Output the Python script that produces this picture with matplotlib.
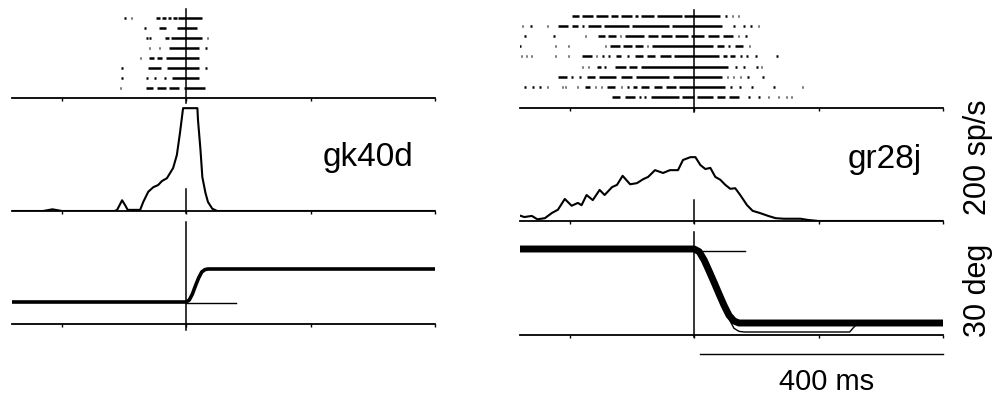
import matplotlib
matplotlib.use('Agg')
import matplotlib.pyplot as plt

W, H, DPI = 1002, 398, 100
plt.rcParams['font.family'] = ['Liberation Sans', 'DejaVu Sans']

# ---------------- data ----------------
tick_ms = [-200, 0, 200, 400]
xlim_ms = (-280, 400)

cell_names = ['gk40d', 'gr28j']
scale_labels = ['200 sp/s', '30 deg', '400 ms']

# rasters: one list of (start_ms, end_ms) bursts per trial, top trial first
raster_gk40d = [
    [(-100, -100), (-89, -89), (-48, -42), (-39, -33), (-30, -24), (-21, -15), (-13, 25)],
    [(-67, -67), (-43, -32), (-15, 18)],
    [(-64, -62), (-59, -56), (-34, -28), (-24, 25), (33, 33)],
    [(-60, -60), (-44, -44), (-27, 21), (31, 31)],
    [(-75, -75), (-59, -51), (-47, -39), (-32, 21)],
    [(-104, -104), (-62, -40), (-31, 21), (31, 31)],
    [(-104, -104), (-64, -64), (-51, -51), (-35, -35), (-22, 21)],
    [(-107, -107), (-64, -54), (-47, -32), (-27, -11), (-3, 31)],
]
raster_gr28j = [
    [(-197, -185), (-180, -163), (-158, -138), (-133, -122), (-117, -100), (-95, -90),
     (-85, -65), (-60, -20), (-16, 42), (50, 50), (60, 60), (70, 70)],
    [(-277, -277), (-264, -264), (-237, -237), (-219, -203), (-197, -187), (-180, -178),
     (-170, -150), (-145, -105), (-100, -40), (-35, 45), (63, 63), (79, 79), (90, 90), (102, 102)],
    [(-273, -273), (-227, -227), (-176, -176), (-155, -143), (-138, -126), (-120, -117),
     (-112, -80), (-75, -58), (-53, -36), (-31, -10), (-5, 15), (22, 40), (47, 62), (70, 70), (82, 82)],
    [(-281, -281), (-224, -224), (-203, -203), (-144, -144), (-135, -120), (-115, -100),
     (-95, -82), (-76, -76), (-68, 30), (37, 48), (55, 58), (66, 78), (88, 88)],
    [(-279, -279), (-271, -271), (-263, -263), (-224, -224), (-203, -203), (-181, -165),
     (-158, -158), (-148, -148), (-138, -138), (-126, -118), (-108, -108), (-95, -82),
     (-76, -63), (-55, -38), (-32, 40), (47, 53), (58, 66), (74, 74), (84, 84), (98, 98), (132, 132)],
    [(-181, -181), (-171, -171), (-156, -150), (-145, -143), (-127, -110), (-104, -92),
     (-86, 55), (66, 66), (79, 79), (100, 100), (107, 107)],
    [(-219, -205), (-198, -195), (-185, -182), (-172, -160), (-153, -125), (-118, -100),
     (-94, -40), (-34, 45), (52, 52), (62, 62), (73, 73), (85, 85), (109, 109)],
    [(-273, -273), (-260, -260), (-249, -249), (-237, -237), (-213, -213), (-208, -208),
     (-189, -189), (-176, -168), (-160, -158), (-150, -148), (-140, -128), (-118, -116),
     (-108, -106), (-98, -92), (-85, -72), (-65, -52), (-45, -30), (-24, 50), (58, 58),
     (72, 72), (92, 92), (127, 127), (173, 173)],
    [(-132, -120), (-112, -95), (-88, -86), (-80, -78), (-70, -25), (-20, 0), (5, 30),
     (36, 50), (56, 72), (87, 87), (103, 103), (118, 118), (134, 134), (147, 147), (155, 155)],
]

# spike density (sp/s)
dens_gk40d_t = [-280, -230, -215, -200, -115, -111, -103, -98, -95, -94, -74, -69, -61, -53,
                -45, -39, -31, -26, -21, -15, -10, -6, -5, 18, 19, 23, 26, 31, 35, 42, 50, 400]
dens_gk40d_v = [0, 0, 3, 0, 0, 2, 19, 10, 4, 2, 2, 16, 34, 42,
                46, 53, 58, 67, 76, 99, 138, 173, 182, 182, 161, 108, 60, 32, 16, 4, 0, 0]
dens_gr28j_t = [-284, -273, -261, -252, -240, -229, -219, -208, -197, -187, -181, -173, -163,
                -152, -144, -132, -124, -115, -103, -92, -82, -74, -63, -50, -39, -26, -18,
                -6, 2, 10, 18, 26, 34, 42, 50, 58, 66, 74, 85, 94, 106, 119, 131, 144, 171,
                182, 200, 400]
dens_gr28j_v = [11, 7, 9, 3, 5, 14, 20, 39, 27, 32, 28, 46, 37,
                55, 46, 60, 64, 80, 65, 67, 74, 78, 90, 85, 90, 90, 108,
                113, 113, 99, 92, 94, 78, 73, 64, 57, 58, 46, 28, 18, 14, 9, 5, 4, 4,
                2, 0, 0]

# eye position (deg)
eye_gk40d_t = [-280, 0, 5, 10, 15, 20, 25, 30, 35, 400]
eye_gk40d_v = [6.6, 6.6, 7.2, 9.0, 11.5, 13.8, 15.6, 16.3, 16.5, 16.5]
target_gk40d_t = [0, 80]
target_gk40d_v = [6.3, 6.3]

eye_gr28j_t = [-280, 0, 8, 16, 24, 32, 40, 48, 56, 64, 72, 400]
eye_gr28j_v = [25.8, 25.8, 25.0, 22.5, 19.2, 15.8, 12.3, 8.9, 5.9, 4.2, 3.6, 3.6]
trial_gr28j_t = [56, 64, 72, 80, 250, 256, 262]
trial_gr28j_v = [4.8, 2.0, 1.1, 0.9, 0.9, 2.2, 3.4]
target_gr28j_t = [0, 82]
target_gr28j_v = [25.2, 25.2]

scalebar_ms = [10, 400]

# ---------------- drawing ----------------
fig = plt.figure(figsize=(W / DPI, H / DPI), dpi=DPI)


def add_ax(x_px, bottom_px, w_px, h_px, ylim):
    ax = fig.add_axes([x_px / W, 1 - bottom_px / H, w_px / W, h_px / H])
    ax.set_xlim(*xlim_ms)
    ax.set_ylim(*ylim)
    for s in ['top', 'left', 'right']:
        ax.spines[s].set_visible(False)
    ax.spines['bottom'].set_linewidth(1.3)
    ax.set_xticks(tick_ms)
    ax.set_xticklabels([])
    ax.set_yticks([])
    ax.tick_params(axis='x', direction='out', length=2.5, width=1.0)
    ax.patch.set_visible(False)
    return ax


def draw_raster(ax, trials, yoff):
    n = len(trials)
    for i, trial in enumerate(trials):
        y = n - i + yoff
        for s, e in trial:
            ax.hlines(y, s, max(e, s + 2.5), color='k', lw=1.8)


cols = [12, 520]

# left column
axr = add_ax(cols[0], 98, 423, 90, (0, 9))
draw_raster(axr, raster_gk40d, 0)
axr.plot([0, 0], [-0.5, 8.9], color='k', lw=1.1, clip_on=False)

axd = add_ax(cols[0], 211, 423, 113, (0, 200))
axd.plot(dens_gk40d_t, dens_gk40d_v, color='k', lw=1.5)
axd.plot([0, 0], [-4, 39], color='k', lw=1.1, clip_on=False)

axe = add_ax(cols[0], 324, 423, 113, (0, 33.9))
axe.plot(eye_gk40d_t, eye_gk40d_v, color='k', lw=2.6, solid_capstyle='butt')
axe.plot(target_gk40d_t, target_gk40d_v, color='k', lw=1.0)
axe.plot([0, 0], [-1.8, 30.6], color='k', lw=1.1, clip_on=False)

# right column
axr2 = add_ax(cols[1], 108, 423, 102, (0, 10))
draw_raster(axr2, raster_gr28j, 0.05)
axr2.plot([0, 0], [-0.4, 9.6], color='k', lw=1.1, clip_on=False)

axd2 = add_ax(cols[1], 221, 423, 113, (0, 200))
axd2.plot(dens_gr28j_t, dens_gr28j_v, color='k', lw=1.5)
axd2.plot([0, 0], [-3, 37], color='k', lw=1.1, clip_on=False)

axe2 = add_ax(cols[1], 335, 423, 114, (0, 34.2))
axe2.plot(trial_gr28j_t, trial_gr28j_v, color='k', lw=1.0)
axe2.plot(eye_gr28j_t, eye_gr28j_v, color='k', lw=5.0, solid_capstyle='butt')
axe2.plot(target_gr28j_t, target_gr28j_v, color='k', lw=1.0)
axe2.plot([0, 0], [-0.6, 30.9], color='k', lw=1.1, clip_on=False)
axe2.plot(scalebar_ms, [-5.7, -5.7], color='k', lw=1.0, clip_on=False)

# texts
fig.text(323 / W, 1 - 166 / H, cell_names[0], fontsize=24, ha='left', va='baseline')
fig.text(848 / W, 1 - 168 / H, cell_names[1], fontsize=24, ha='left', va='baseline')
fig.text(978 / W, 1 - 157 / H, scale_labels[0], fontsize=22, rotation=90,
         ha='center', va='center')
fig.text(978 / W, 1 - 290 / H, scale_labels[1], fontsize=22, rotation=90,
         ha='center', va='center')
fig.text(827 / W, 1 - 382 / H, scale_labels[2], fontsize=21, ha='center', va='center')

fig.savefig('out.png', dpi=DPI)
